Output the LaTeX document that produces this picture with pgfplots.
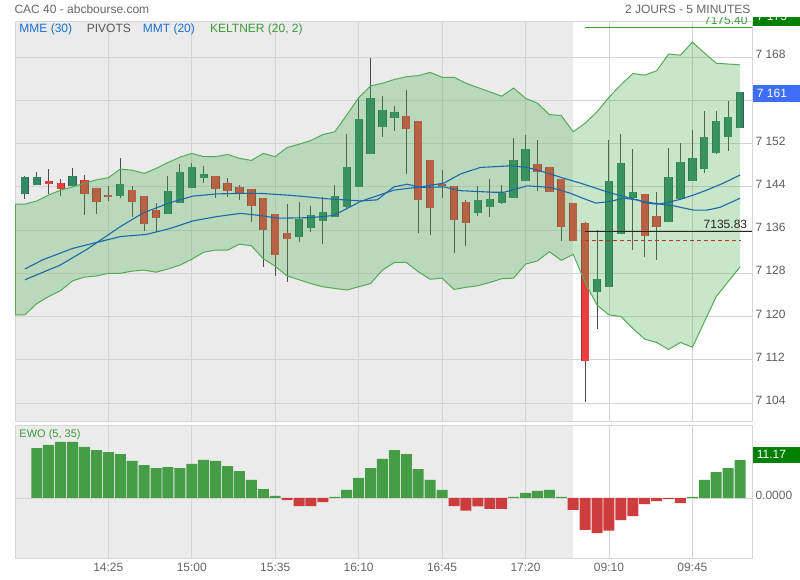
\documentclass[border=0pt]{standalone}
\usepackage{pgfplots}
\pgfplotsset{compat=1.18}
\usepackage{pgfplotstable}
\usepackage{fontspec}
\setmainfont{Liberation Sans}
\definecolor{bgray}{HTML}{EBEBEB}
\definecolor{gridc}{HTML}{D4D4D4}
\definecolor{borderc}{HTML}{D6D6D6}
\definecolor{txt}{HTML}{666666}
\definecolor{upc}{HTML}{338866}
\definecolor{upedge}{HTML}{28664C}
\definecolor{dnc}{HTML}{E84040}
\definecolor{dnedge}{HTML}{A83030}
\definecolor{wick}{HTML}{4A4A4A}
\definecolor{bandc}{HTML}{4CAF50}
\definecolor{bandline}{HTML}{55AA55}
\definecolor{mac}{HTML}{1C68A8}
\definecolor{legblue}{HTML}{1A6FD6}
\definecolor{leggreen}{HTML}{3A9A3A}
\definecolor{ewog}{HTML}{3D9A3D}
\definecolor{ewor}{HTML}{CC3333}
\definecolor{boxblue}{HTML}{3D6EF5}
\definecolor{boxgreen}{HTML}{008000}
\definecolor{pivred}{HTML}{C0302B}

\pgfplotstableread{
i o h l c
0 7142.9 7146.1 7141.8 7146.0
1 7144.4 7146.8 7144.4 7145.8
4 7144.2 7147.7 7144.2 7146.1
8 7142.4 7149.4 7142.0 7144.5
12 7139.0 7146.2 7139.0 7143.4
13 7141.1 7148.2 7141.1 7146.7
14 7143.9 7148.5 7143.9 7147.8
15 7145.7 7148.1 7144.8 7146.5
23 7134.8 7141.2 7133.8 7138.2
24 7136.5 7140.5 7135.7 7139.0
25 7137.8 7142.1 7133.5 7139.4
26 7138.5 7144.4 7138.5 7142.3
27 7140.3 7154.0 7140.3 7147.7
28 7144.0 7160.6 7144.0 7156.6
29 7150.2 7167.9 7150.2 7160.5
30 7155.2 7161.0 7153.4 7158.4
31 7156.8 7159.0 7154.4 7157.9
38 7139.2 7144.2 7138.7 7141.6
39 7140.3 7145.5 7138.5 7141.9
40 7141.0 7144.4 7141.0 7142.8
41 7142.0 7153.1 7142.0 7149.0
42 7145.3 7153.6 7145.3 7151.2
48 7124.6 7136.2 7117.9 7127.1
49 7125.7 7152.7 7125.7 7145.2
50 7135.4 7153.9 7135.4 7148.6
51 7142.0 7151.0 7132.3 7143.1
54 7137.6 7151.3 7137.6 7146.0
55 7141.8 7152.1 7141.8 7148.8
56 7145.2 7154.5 7145.2 7149.5
57 7147.4 7158.1 7146.5 7153.2
58 7150.2 7158.2 7150.2 7156.2
59 7153.2 7160.1 7150.8 7156.9
60 7155.0 7161.6 7155.0 7161.6
}\candlesup

\pgfplotstableread{
i o h l c
2 7145.1 7147.3 7142.7 7144.6
3 7144.8 7145.5 7142.4 7143.7
5 7145.2 7146.2 7138.9 7142.6
6 7143.9 7143.9 7139.2 7141.3
7 7142.7 7144.2 7141.5 7142.2
9 7143.4 7144.2 7138.6 7141.3
10 7142.4 7142.4 7136.0 7137.1
11 7139.7 7141.2 7135.8 7138.3
16 7146.1 7146.1 7142.0 7143.7
17 7144.8 7145.8 7142.2 7143.4
18 7144.1 7144.4 7141.6 7142.8
19 7143.6 7143.6 7137.6 7140.5
20 7142.1 7142.1 7129.4 7136.1
21 7139.1 7139.1 7127.6 7131.5
22 7135.5 7141.0 7126.5 7134.4
32 7157.3 7162.1 7146.6 7154.8
33 7156.2 7156.2 7135.5 7141.6
34 7149.0 7149.0 7135.3 7140.0
35 7144.5 7147.1 7142.0 7144.2
36 7144.3 7144.3 7132.0 7137.9
37 7141.2 7141.5 7133.1 7137.4
43 7148.4 7152.7 7143.3 7146.8
44 7147.7 7147.7 7143.1 7143.1
45 7145.4 7145.4 7134.0 7136.6
46 7141.1 7141.1 7133.9 7133.9
47 7137.5 7137.5 7104.2 7111.9
52 7142.7 7142.7 7131.1 7135.0
53 7138.7 7143.2 7130.7 7136.5
}\candlesdn

\pgfplotstableread{
i up lo
-0.83 7140.8 7120.3
0 7140.8 7120.3
1 7141.4 7122.4
2 7142.5 7123.7
3 7143.4 7124.8
4 7144.0 7126.6
5 7144.7 7127.3
6 7145.3 7127.5
7 7145.7 7128.0
8 7147.3 7128.0
9 7147.1 7128.4
10 7146.5 7128.6
11 7147.4 7128.2
12 7148.5 7128.8
13 7149.5 7129.5
14 7150.2 7130.6
15 7149.6 7131.9
16 7149.6 7132.3
17 7150.0 7132.3
18 7149.3 7133.4
19 7148.9 7133.1
20 7150.2 7130.7
21 7149.6 7129.3
22 7151.3 7127.5
23 7151.9 7126.8
24 7152.6 7126.1
25 7153.7 7125.5
26 7154.2 7125.2
27 7157.3 7124.9
28 7160.5 7125.5
29 7162.7 7126.1
30 7163.2 7128.6
31 7163.9 7130.0
32 7164.4 7130.0
33 7164.6 7128.3
34 7165.2 7126.9
35 7164.3 7127.1
36 7164.3 7125.0
37 7163.2 7125.4
38 7162.4 7125.7
39 7161.6 7126.3
40 7160.8 7127.0
41 7162.3 7127.1
42 7160.4 7129.7
43 7159.5 7130.3
44 7157.4 7132.0
45 7157.2 7130.4
46 7154.2 7131.5
47 7155.8 7126.3
48 7157.9 7122.1
49 7160.6 7120.3
50 7162.9 7120.0
51 7165.0 7117.8
52 7164.7 7115.8
53 7165.5 7115.2
54 7168.6 7113.9
55 7168.4 7115.2
56 7170.8 7114.3
57 7168.8 7119.0
58 7166.9 7123.7
60 7166.6 7129.2
}\band

\pgfplotstableread{
i v
0 7128.8
1.5 7130.5
4 7132.6
6 7133.7
8 7134.8
10.2 7135.2
12.2 7136.3
14.1 7137.7
16.1 7138.5
18.1 7139.1
19.75 7138.7
21.15 7138.2
23.95 7138.3
25.9 7138.7
28.15 7141.3
30.95 7143.4
33.2 7144.0
35.15 7144.7
36.55 7146.4
38.2 7147.6
40.75 7147.9
42.16 7147.6
44.1 7146.4
44.9 7145.8
46.6 7144.7
47.7 7143.9
49.1 7142.9
50.5 7142.1
51.9 7141.3
53.3 7140.8
54.4 7140.5
56.1 7139.7
57.2 7139.7
58.3 7140.2
60 7141.9
}\maA

\pgfplotstableread{
i v
0 7126.8
2.94 7129.5
5.18 7132.4
7.98 7136.6
9.94 7139.2
12.2 7141.1
14.1 7142.3
16.1 7142.7
18.1 7142.8
19.75 7142.8
22.5 7142.4
25.4 7141.8
28.15 7141.4
29.55 7141.6
30.95 7144.0
32.07 7144.5
33.2 7143.9
35.15 7144.0
36.55 7143.3
39.35 7143.0
40.2 7143.0
42.16 7144.2
44.1 7143.9
45.8 7142.8
46.8 7141.9
47.9 7141.0
49.1 7141.3
50.2 7141.9
51.3 7141.6
52.2 7141.0
53.0 7140.8
53.9 7141.1
55.0 7141.7
56.1 7142.5
57.2 7143.4
58.6 7144.7
60 7146.2
}\maB

\pgfplotstableread{
i v
1 14.7
2 15.6
3 16.5
4 16.5
5 15.0
6 14.1
7 13.5
8 12.9
9 10.9
10 9.7
11 8.8
12 9.1
13 8.8
14 10.0
15 11.2
16 10.9
17 9.4
18 7.9
19 5.3
20 2.6
21 0.6
26 0.3
27 2.4
28 5.9
29 8.8
30 11.5
31 14.1
32 12.9
33 8.5
34 5.3
35 2.4
41 0.3
42 1.5
43 2.1
44 2.4
45 0.3
56 0.3
57 5.3
58 7.6
59 8.8
60 11.17
}\ewopos

\pgfplotstableread{
i v
22 -0.6
23 -2.4
24 -2.4
25 -1.2
36 -2.4
37 -3.7
38 -2.5
39 -3.2
40 -3.2
46 -3.5
47 -9.4
48 -10.3
49 -9.6
50 -6.5
51 -5.3
52 -1.8
53 -0.9
54 -0.3
55 -1.5
}\ewoneg

\pgfplotsset{
  panel/.style={scale only axis, width=737pt, xmin=-0.83, xmax=61.0,
    axis line style={draw=borderc, line width=0.8pt},
    major tick length=0pt, grid=major,
    major grid style={draw=gridc, line width=0.8pt},
    tick label style={font=\fontsize{12}{14}\selectfont, text=txt},
    xtick={7,14,...,56}},
  wicks/.style={draw=none, mark=none, forget plot, error bars/.cd, y dir=both, y explicit,
    error mark=none, error bar style={draw=wick, line width=1pt}},
  bodies/.style 2 args={draw=none, mark=none, forget plot, error bars/.cd, y dir=both, y explicit,
    error mark=none, error bar style={draw=#1, line width=#2}},
}

\begin{document}
\begin{tikzpicture}[x=1pt, y=1pt]
\path[use as bounding box] (0,0) rectangle (800,580);
\fill[white] (0,0) rectangle (800,580);
\fill[bgray] (15,159) rectangle (573.2,559);
\fill[bgray] (15,22) rectangle (573.2,155);

% main panel
\begin{axis}[panel, at={(15pt,159pt)}, anchor=south west, height=400pt,
  ymin=7100.65, ymax=7174.72,
  xticklabel style={opacity=0},
  ytick={7104,7112,...,7168},
  yticklabels={7 104,7 112,7 120,7 128,7 136,7 144,7 152,,7 168},
  yticklabel pos=right, yticklabel style={yshift=2.6pt, text=txt!90!black}]
\addplot[wicks] table[x=i, y expr=(\thisrow{h}+\thisrow{l})/2, y error expr=(\thisrow{h}-\thisrow{l})/2] {\candlesup};
\addplot[wicks] table[x=i, y expr=(\thisrow{h}+\thisrow{l})/2, y error expr=(\thisrow{h}-\thisrow{l})/2] {\candlesdn};
\addplot[bodies={upedge}{8.3pt}] table[x=i, y expr=(\thisrow{o}+\thisrow{c})/2, y error expr=(\thisrow{c}-\thisrow{o})/2] {\candlesup};
\addplot[bodies={upc}{6.8pt}] table[x=i, y expr=(\thisrow{o}+\thisrow{c})/2, y error expr=(\thisrow{c}-\thisrow{o})/2] {\candlesup};
\addplot[bodies={dnedge}{8.3pt}] table[x=i, y expr=(\thisrow{o}+\thisrow{c})/2, y error expr=(\thisrow{o}-\thisrow{c})/2] {\candlesdn};
\addplot[bodies={dnc}{6.8pt}] table[x=i, y expr=(\thisrow{o}+\thisrow{c})/2, y error expr=(\thisrow{o}-\thisrow{c})/2] {\candlesdn};
% Keltner band fill
\addplot[fill=bandc, fill opacity=0.3, draw=none] coordinates {
(-0.83,7140.8)(0,7140.8)(1,7141.4)(2,7142.5)(3,7143.4)(4,7144.0)(5,7144.7)(6,7145.3)(7,7145.7)(8,7147.3)(9,7147.1)(10,7146.5)(11,7147.4)(12,7148.5)(13,7149.5)(14,7150.2)(15,7149.6)(16,7149.6)(17,7150.0)(18,7149.3)(19,7148.9)(20,7150.2)(21,7149.6)(22,7151.3)(23,7151.9)(24,7152.6)(25,7153.7)(26,7154.2)(27,7157.3)(28,7160.5)(29,7162.7)(30,7163.2)(31,7163.9)(32,7164.4)(33,7164.6)(34,7165.2)(35,7164.3)(36,7164.3)(37,7163.2)(38,7162.4)(39,7161.6)(40,7160.8)(41,7162.3)(42,7160.4)(43,7159.5)(44,7157.4)(45,7157.2)(46,7154.2)(47,7155.8)(48,7157.9)(49,7160.6)(50,7162.9)(51,7165.0)(52,7164.7)(53,7165.5)(54,7168.6)(55,7168.4)(56,7170.8)(57,7168.8)(58,7166.9)(60,7166.6)
(60,7129.2)(58,7123.7)(57,7119.0)(56,7114.3)(55,7115.2)(54,7113.9)(53,7115.2)(52,7115.8)(51,7117.8)(50,7120.0)(49,7120.3)(48,7122.1)(47,7126.3)(46,7131.5)(45,7130.4)(44,7132.0)(43,7130.3)(42,7129.7)(41,7127.1)(40,7127.0)(39,7126.3)(38,7125.7)(37,7125.4)(36,7125.0)(35,7127.1)(34,7126.9)(33,7128.3)(32,7130.0)(31,7130.0)(30,7128.6)(29,7126.1)(28,7125.5)(27,7124.9)(26,7125.2)(25,7125.5)(24,7126.1)(23,7126.8)(22,7127.5)(21,7129.3)(20,7130.7)(19,7133.1)(18,7133.4)(17,7132.3)(16,7132.3)(15,7131.9)(14,7130.6)(13,7129.5)(12,7128.8)(11,7128.2)(10,7128.6)(9,7128.4)(8,7128.0)(7,7128.0)(6,7127.5)(5,7127.3)(4,7126.6)(3,7124.8)(2,7123.7)(1,7122.4)(0,7120.3)(-0.83,7120.3)};
\addplot[bandline, line width=1pt] table[x=i, y=up] {\band};
\addplot[bandline, line width=1pt] table[x=i, y=lo] {\band};
\addplot[bandline, line width=1.4pt] coordinates {(-0.83,7140.8)(-0.83,7120.3)};
% moving averages
\addplot[mac, line width=1.1pt] table[x=i, y=v] {\maA};
\addplot[mac, line width=1.1pt] table[x=i, y=v] {\maB};
% pivot lines
\addplot[leggreen, line width=1pt] coordinates {(47,7173.6)(61,7173.6)};
\addplot[black!85, line width=1pt] coordinates {(47,7135.83)(61,7135.83)};
\addplot[pivred, line width=0.9pt, dash pattern=on 4pt off 3pt] coordinates {(47,7134.0)(60.07,7134.0)};
\end{axis}

% EWO panel
\begin{axis}[panel, at={(15pt,22pt)}, anchor=south west, height=133pt,
  ymin=-17.65, ymax=21.47,
  xticklabels={14:25,15:00,15:35,16:10,16:45,17:20,09:10,09:45},
  xticklabel style={yshift=-2pt},
  ytick={0}, yticklabels={0.0000},
  yticklabel pos=right, yticklabel style={yshift=2.7pt}]
\addplot[ybar, bar width=11pt, bar shift=0pt, fill=ewog, draw=none, fill opacity=0.95] table[x=i, y=v] {\ewopos};
\addplot[ybar, bar width=11pt, bar shift=0pt, fill=ewor, draw=none, fill opacity=0.95] table[x=i, y=v] {\ewoneg};
\end{axis}

% texts
\node[anchor=base west, inner sep=0, font=\fontsize{12}{14}\selectfont, text=txt] at (14.3,566.7) {CAC 40 - abcbourse.com};
\node[anchor=base east, inner sep=0, font=\fontsize{12}{14}\selectfont, text=txt] at (750.7,566.7) {2 JOURS - 5 MINUTES};
\node[anchor=base west, inner sep=0, font=\fontsize{12}{14}\selectfont, text=legblue] at (19.3,547.3) {MME (30)};
\node[anchor=base west, inner sep=0, font=\fontsize{12}{14}\selectfont, text=black!65] at (86.7,547.3) {PIVOTS};
\node[anchor=base west, inner sep=0, font=\fontsize{12}{14}\selectfont, text=legblue] at (142.7,547.3) {MMT (20)};
\node[anchor=base west, inner sep=0, font=\fontsize{12}{14}\selectfont, text=leggreen] at (210,547.3) {KELTNER (20, 2)};
\node[anchor=base west, inner sep=0, font=\fontsize{11}{13}\selectfont, text=leggreen] at (19.3,142.7) {EWO (5, 35)};
\node[anchor=base east, inner sep=0, font=\fontsize{12}{14}\selectfont, text=black!85] at (747.3,351.7) {7135.83};
\fill[boxblue] (753.3,478.3) rectangle (800,495);
\node[anchor=base west, inner sep=0, font=\fontsize{12}{14}\selectfont, text=white] at (756.7,482.3) {7 161};
\fill[boxgreen] (752.7,117.3) rectangle (800,133.3);
\node[anchor=base west, inner sep=0, font=\fontsize{12}{14}\selectfont, text=white] at (756.7,121.7) {11.17};
\begin{scope}
\clip (0,0) rectangle (800,562);
\fill[boxgreen] (753,554) rectangle (800,575);
\node[anchor=base west, inner sep=0, font=\fontsize{12}{14}\selectfont, text=white] at (756.7,559.5) {7 175};
\node[anchor=base east, inner sep=0, font=\fontsize{12}{14}\selectfont, text=leggreen] at (747.7,555.3) {7175.40};
\end{scope}
\end{tikzpicture}
\end{document}
